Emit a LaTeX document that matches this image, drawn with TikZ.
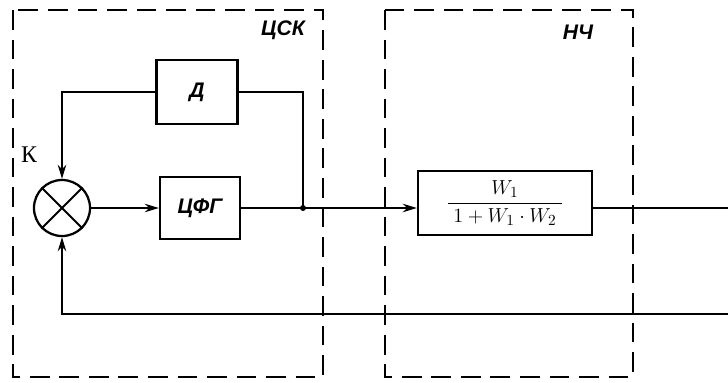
\documentclass[tikz,border=0pt]{standalone}
\usepackage{amsmath}
\usepackage{fontspec}
\setmainfont{Liberation Serif}
\newfontfamily\blokfont{Liberation Sans}
\usetikzlibrary{arrows.meta}

\begin{document}
\begin{tikzpicture}[x=0.025cm, y=-0.025cm,
    blok/.style={draw, line width=1.6pt, inner sep=0pt},
    zona/.style={line width=1.5pt, dash pattern=on 14pt off 7pt},
    sv/.style={line width=1.5pt},
    str/.style={sv, -{Stealth[length=10pt, width=6pt]}},
    metka/.style={font=\fontsize{15}{17}\selectfont\blokfont\bfseries\itshape}]

    \useasboundingbox (0,0) rectangle (728,382);

    % Зоны ЦСК и НЧ
    \draw[zona] (13,10) rectangle (323,377);
    \draw[zona] (385,10) rectangle (633,377);
    \node[metka] (lcsk) at (283,30) {ЦСК};
    \node[metka] (lnch) at (578,32) {НЧ};

    % Сумматор
    \node[draw, circle, line width=1.6pt, minimum size=1.4cm, inner sep=0pt] (sum) at (62,208) {};
    \draw[line width=1.4pt] (sum.north west) -- (sum.south east);
    \draw[line width=1.4pt] (sum.north east) -- (sum.south west);
    \node[font=\fontsize{17}{19}\selectfont] (lk) at (29,155) {К};

    % Блоки
    \node[blok, metka, minimum width=2.025cm, minimum height=1.6cm] (d) at (197,92) {Д};
    \node[blok, metka, minimum width=2cm, minimum height=1.55cm] (cfg) at (200,208) {ЦФГ};
    \node[blok, font=\fontsize{15}{17}\selectfont, minimum width=4.35cm, minimum height=1.6cm] (frac) at (505,203)
        {$\dfrac{W_1}{\;1+W_1\cdot W_2\;}$};

    % Узлы
    \coordinate (jn) at (303,208);
    \coordinate (vyhod) at (728,208);
    \coordinate (niz) at (728,314);

    % Связи
    \draw[str] (sum) -- (cfg);
    \draw[sv] (cfg) -- (jn);
    \draw[str] (jn) -- (frac.west |- jn);
    \draw[sv] (frac.east |- jn) -- (vyhod);
    \draw[str] (d.west) -| (sum.north);
    \draw[sv] (d.east) -| (jn);
    \draw[str] (niz) -| (sum.south);
    \fill (jn) circle (3);

\end{tikzpicture}
\end{document}
